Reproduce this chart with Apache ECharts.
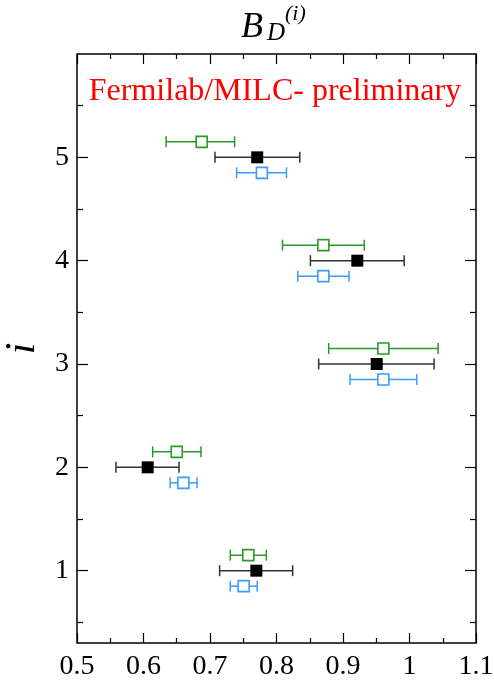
<!DOCTYPE html>
<html><head><meta charset="utf-8">
<script src="https://cdn.jsdelivr.net/npm/echarts@6/dist/echarts.min.js"></script>
<style>html,body{margin:0;padding:0;background:#fff}#c{width:494px;height:690px}</style>
</head><body><div id="c"></div>
<script>
var rows = [5, 4, 3, 2, 1];
var blackVal = [0.771, 0.9215, 0.9507, 0.6063, 0.7697];
var blackLo  = [0.7075, 0.851, 0.8634, 0.5586, 0.7145];
var blackHi  = [0.835, 0.992, 1.037, 0.6534, 0.8243];
var greenVal = [0.6875, 0.8705, 0.9607, 0.650, 0.7576];
var greenLo  = [0.634, 0.809, 0.8785, 0.6138, 0.7305];
var greenHi  = [0.737, 0.932, 1.043, 0.6865, 0.7847];
var blueVal  = [0.778, 0.8705, 0.9607, 0.660, 0.7506];
var blueLo   = [0.740, 0.832, 0.9105, 0.640, 0.7305];
var blueHi   = [0.815, 0.909, 1.011, 0.6805, 0.771];
var yOffset = 0.15;
var yMajor = [1, 2, 3, 4, 5];
var yMinor = [0.5, 1.5, 2.5, 3.5, 4.5, 5.5];
var xTicks = ['0.5','0.6','0.7','0.8','0.9','1','1.1'];

var GREEN = '#2a9a2a', BLUE = '#3a9cff', BLACK = '#000', BARBLACK = '#333';
var FONT = '"Liberation Serif","DejaVu Serif",serif';

function pts(val, dy) { return rows.map(function (r, i) { return [val[i], r + dy]; }); }
function bars(lo, hi, dy) { return rows.map(function (r, i) { return [lo[i], hi[i], r + dy]; }); }

function errSeries(lo, hi, dy, color) {
  return {
    type: 'custom', silent: true, z: 2,
    data: bars(lo, hi, dy),
    renderItem: function (params, api) {
      var a = api.coord([api.value(0), api.value(2)]);
      var b = api.coord([api.value(1), api.value(2)]);
      var h = 5.5;
      var st = { stroke: color, lineWidth: 1.5, fill: null };
      return { type: 'group', children: [
        { type: 'line', shape: { x1: a[0], y1: a[1], x2: b[0], y2: b[1] }, style: st },
        { type: 'line', shape: { x1: a[0], y1: a[1] - h, x2: a[0], y2: a[1] + h }, style: st },
        { type: 'line', shape: { x1: b[0], y1: b[1] - h, x2: b[0], y2: b[1] + h }, style: st }
      ]};
    }
  };
}

var chart = echarts.init(document.getElementById('c'), null, { renderer: 'canvas' });
var yBase = { type: 'value', min: 0.3, max: 6.0, splitLine: { show: false } };
function tt(txt, x, y, size, italic, extra) {
  var s = { text: txt, fontFamily: FONT, fontSize: size, fill: '#000', align: 'left', verticalAlign: 'middle' };
  if (italic) s.fontStyle = 'italic';
  if (extra) Object.assign(s, extra);
  return { type: 'text', x: x, y: y, style: s };
}
chart.setOption({
  animation: false,
  backgroundColor: '#fff',
  grid: { left: 77, right: 18, top: 54, bottom: 47, containLabel: false, outerBoundsMode: 'none',
    show: true, borderColor: '#000', borderWidth: 1.5, backgroundColor: 'transparent' },
  graphic: [
    tt('B', 241, 28, 36, true),
    tt('D', 267, 33, 25, true),
    tt('(i)', 285, 14, 22, true),
    tt('Fermilab/MILC- preliminary', 275, 92, 32, false, { fill: '#ff0000', align: 'center' })
  ],
  xAxis: [
    { type: 'value', min: 0.5, max: 1.1, interval: 0.1, position: 'bottom',
      axisLine: { show: false },
      axisTick: { inside: true, length: 10, lineStyle: { color: '#000', width: 1.2 } },
      minorTick: { show: true, splitNumber: 2, length: 5, lineStyle: { color: '#000', width: 1.2 } },
      splitLine: { show: false },
      axisLabel: { margin: 10, fontFamily: FONT, fontSize: 28, color: '#000',
        formatter: function (v) { var s = Math.round(v * 10) / 10; return xTicks[Math.round((s - 0.5) * 10)] || ''; } } },
    { type: 'value', min: 0.5, max: 1.1, interval: 0.1, position: 'top',
      axisLine: { show: false },
      axisTick: { inside: true, length: 10, lineStyle: { color: '#000', width: 1.2 } },
      minorTick: { show: true, splitNumber: 2, length: 5, lineStyle: { color: '#000', width: 1.2 } },
      splitLine: { show: false }, axisLabel: { show: false } }
  ],
  yAxis: [
    Object.assign({}, yBase, { position: 'left', axisLine: { show: false },
      name: 'i', nameLocation: 'middle', nameRotate: 90, nameGap: 30,
      nameTextStyle: { fontFamily: FONT, fontStyle: 'italic', fontSize: 42, color: '#000' },
      axisTick: { inside: true, length: 11, customValues: yMajor, lineStyle: { color: '#000', width: 1.2 } },
      axisLabel: { customValues: yMajor, margin: 8, fontFamily: FONT, fontSize: 28, color: '#000' } }),
    Object.assign({}, yBase, { position: 'left', axisLine: { show: false },
      axisTick: { inside: true, length: 6, customValues: yMinor, lineStyle: { color: '#000', width: 1.2 } },
      axisLabel: { show: false } }),
    Object.assign({}, yBase, { position: 'right', axisLine: { show: false },
      axisTick: { inside: true, length: 11, customValues: yMajor, lineStyle: { color: '#000', width: 1.2 } },
      axisLabel: { show: false } }),
    Object.assign({}, yBase, { position: 'right', axisLine: { show: false },
      axisTick: { inside: true, length: 6, customValues: yMinor, lineStyle: { color: '#000', width: 1.2 } },
      axisLabel: { show: false } })
  ],
  series: [
    errSeries(greenLo, greenHi, yOffset, GREEN),
    errSeries(blackLo, blackHi, 0, BARBLACK),
    errSeries(blueLo, blueHi, -yOffset, BLUE),
    { type: 'scatter', z: 3, symbol: 'rect', symbolSize: 11, data: pts(greenVal, yOffset),
      itemStyle: { color: '#fff', borderColor: GREEN, borderWidth: 1.6, opacity: 1 } },
    { type: 'scatter', z: 3, symbol: 'rect', symbolSize: 12, data: pts(blackVal, 0),
      itemStyle: { color: BLACK, opacity: 1 } },
    { type: 'scatter', z: 3, symbol: 'rect', symbolSize: 11, data: pts(blueVal, -yOffset),
      itemStyle: { color: '#fff', borderColor: BLUE, borderWidth: 1.6, opacity: 1 } }
  ]
});
</script></body></html>
